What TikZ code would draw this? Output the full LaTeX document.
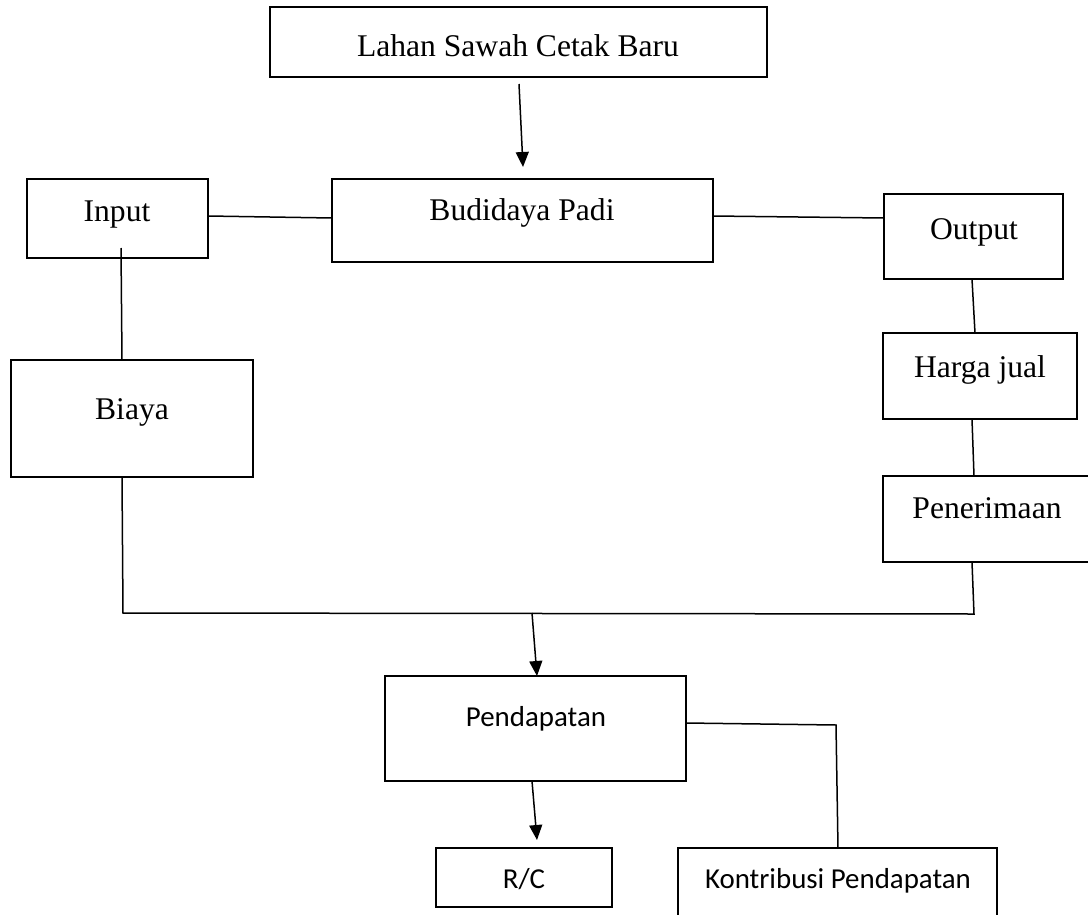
\documentclass[tikz,border=0pt]{standalone}
\usepackage{fontspec}
\setmainfont{Liberation Serif}
\newfontfamily\calibri{Carlito}
\usetikzlibrary{arrows.meta}
\tikzset{
  box/.style={draw=black, line width=2.5bp, rectangle, inner sep=0pt, outer sep=0pt, anchor=north west, fill=none},
  tms/.style={anchor=base, inner sep=0pt, font=\fontsize{31.7pt}{36pt}\selectfont},
  cal/.style={anchor=base, inner sep=0pt, font=\calibri\fontsize{29pt}{33pt}\selectfont},
  conn/.style={draw=black, line width=1.5bp},
  arr/.style={conn, -{Triangle[length=15bp,width=13bp]}}
}
\newcommand{\mybox}[5]{%
  \pgfmathsetmacro{\bw}{#4-#2}\pgfmathsetmacro{\bh}{#5-#3}%
  \node[box, minimum width=\bw bp, minimum height=\bh bp] (#1) at (#2,#3) {};}
\begin{document}
\begin{tikzpicture}[x=1bp,y=-1bp]
\useasboundingbox[fill=white] (0,0) rectangle (1088,915);
% boxes
\mybox{lahan}{270}{7}{767}{77}
\mybox{inp}{27}{179}{208}{258}
\mybox{bud}{332}{179}{713}{262}
\mybox{outp}{884}{194}{1063}{279}
\mybox{bia}{11}{360}{253}{477}
\mybox{har}{883}{333}{1077}{419}
\mybox{pen}{883}{476}{1100}{562}
\mybox{pend}{385}{676}{686}{781}
\mybox{rc}{436}{848}{612}{907}
\mybox{kon}{678}{848}{997}{925}
% texts
\node[tms] (tlahan) at (518,56) {Lahan Sawah Cetak Baru};
\node[tms] (tinp) at (117,221) {Input};
\node[tms] (tbud) at (522,220) {Budidaya Padi};
\node[tms] (tout) at (974,239) {Output};
\node[tms] (tbia) at (132,419) {Biaya};
\node[tms] (thar) at (980,377) {Harga jual};
\node[tms] (tpen) at (987,518) {Penerimaan};
\node[cal] (tpend) at (536,726) {Pendapatan};
\node[cal] (trc) at (524,888) {R/C};
\node[cal] (tkon) at (838,888) {Kontribusi Pendapatan};
% connector points
\coordinate (a1s) at (519,84);
\coordinate (a1e) at (523,167);
\coordinate (ib) at (121,248);
\coordinate (j1) at (123,613);
\coordinate (j2) at (974,614);
\coordinate (a2s) at (532,613);
\coordinate (a3e) at (537,840);
\coordinate (k1) at (836,725);
% connectors
\draw[arr] (a1s) -- (a1e);
\draw[conn] (inp.east |- 0,216) -- (bud.west |- 0,218);
\draw[conn] (bud.east |- 0,216) -- (outp.west |- 0,218);
\draw[conn] (ib) -- (122,0 |- bia.north);
\draw[conn] (972,0 |- outp.south) -- (975,0 |- har.north);
\draw[conn] (972,0 |- har.south) -- (974,0 |- pen.north);
\draw[conn] (122,0 |- bia.south) -- (j1) -- (j2) -- (972,0 |- pen.south);
\draw[arr] (a2s) -- (537,0 |- pend.north);
\draw[arr] (532,0 |- pend.south) -- (a3e);
\draw[conn] (pend.east |- 0,723) -- (k1) -- (838,0 |- kon.north);
\end{tikzpicture}
\end{document}
